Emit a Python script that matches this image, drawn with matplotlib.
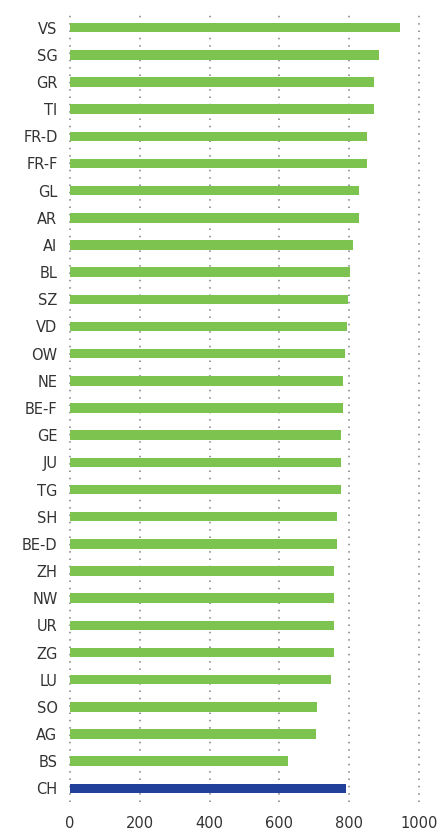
import matplotlib.pyplot as plt

cantons = ['VS', 'SG', 'GR', 'TI', 'FR-D', 'FR-F', 'GL', 'AR', 'AI', 'BL',
           'SZ', 'VD', 'OW', 'NE', 'BE-F', 'GE', 'JU', 'TG', 'SH', 'BE-D',
           'ZH', 'NW', 'UR', 'ZG', 'LU', 'SO', 'AG', 'BS', 'CH']
values = [945, 885, 872, 872, 850, 850, 829, 828, 810, 802,
          796, 794, 789, 781, 781, 776, 776, 776, 766, 766,
          757, 756, 756, 756, 747, 709, 704, 624, 790]
xticks = [0, 200, 400, 600, 800, 1000]

green = '#7dc350'
blue = '#21409a'
colors = [blue if c == 'CH' else green for c in cantons]

plt.rcParams['font.family'] = ['DejaVu Sans']

fig = plt.figure(figsize=(4.4, 8.32), dpi=100)
ax = fig.add_axes([70 / 440, 1 - 802 / 832, 349 / 440, 788 / 832])

ypos = list(range(len(cantons)))
ax.barh(ypos, values, height=0.35, color=colors, zorder=3)

ax.set_ylim(len(cantons) - 0.5, -0.5)
ax.set_xlim(0, 1000)
ax.set_yticks(ypos)
ax.set_yticklabels(cantons)
ax.set_xticks(xticks)
ax.set_xticklabels([str(t) for t in xticks])

ax.grid(axis='x', color='#808080', linewidth=1.1, linestyle=(0, (1.0, 3.8)), zorder=0)
ax.grid(axis='y', visible=False)
for line in ax.get_xgridlines():
    line.set_clip_on(False)
for s in ax.spines.values():
    s.set_visible(False)
ax.tick_params(axis='both', length=0, labelsize=10.5, labelcolor='#333333')
ax.tick_params(axis='y', pad=9)
ax.tick_params(axis='x', pad=10)

fig.savefig('out.png', dpi=100)
